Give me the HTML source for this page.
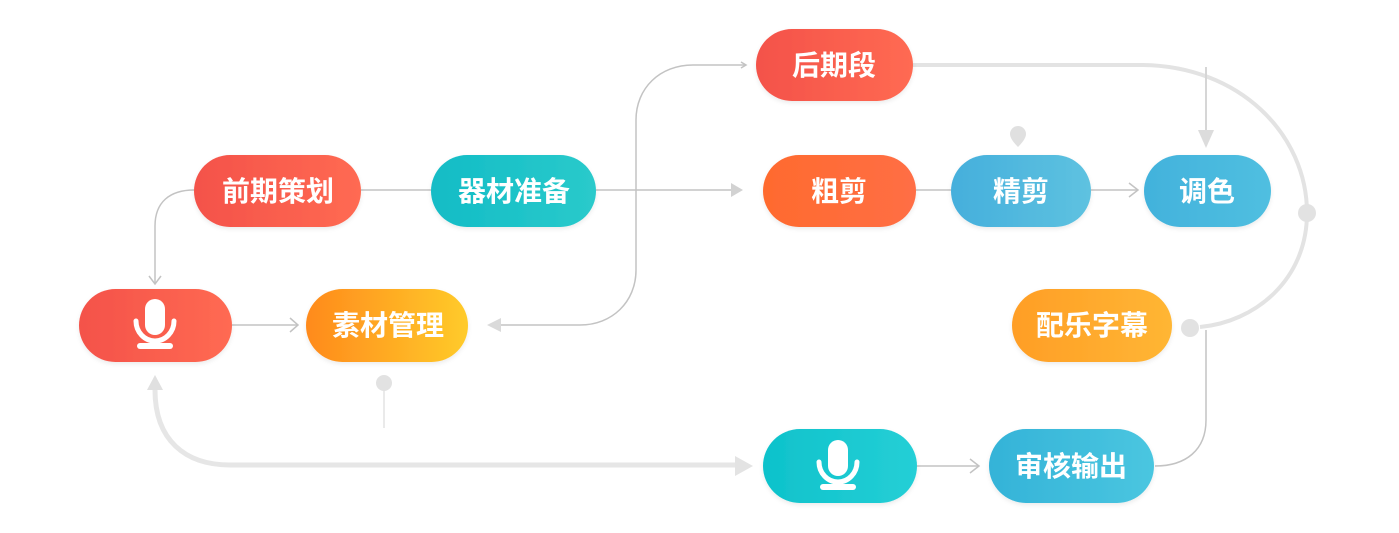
<!DOCTYPE html>
<html>
<head>
<meta charset="utf-8">
<style>
html,body{margin:0;padding:0;background:#ffffff;}
svg{display:block;}
text{font-family:"Liberation Sans","Noto Sans CJK SC",sans-serif;font-weight:bold;font-size:28px;fill:#ffffff;text-anchor:middle;}
</style>
</head>
<body>
<svg width="1399" height="533" viewBox="0 0 1399 533" xmlns="http://www.w3.org/2000/svg">
<defs>
<linearGradient id="gRed" x1="0" y1="0" x2="1" y2="0"><stop offset="0" stop-color="#F4524A"/><stop offset="1" stop-color="#FF6A52"/></linearGradient>
<linearGradient id="gTeal" x1="0" y1="0" x2="1" y2="0"><stop offset="0" stop-color="#12BCC6"/><stop offset="1" stop-color="#2ACACB"/></linearGradient>
<linearGradient id="gOrgY" x1="0" y1="0" x2="1" y2="0"><stop offset="0" stop-color="#FF8A1C"/><stop offset="1" stop-color="#FFCB2A"/></linearGradient>
<linearGradient id="gOrg" x1="0" y1="0" x2="1" y2="0"><stop offset="0" stop-color="#FF6B2E"/><stop offset="1" stop-color="#FF6E45"/></linearGradient>
<linearGradient id="gBlue" x1="0" y1="0" x2="1" y2="0"><stop offset="0" stop-color="#45AFDC"/><stop offset="1" stop-color="#5EC2E0"/></linearGradient>
<linearGradient id="gBlue2" x1="0" y1="0" x2="1" y2="0"><stop offset="0" stop-color="#42B2DC"/><stop offset="1" stop-color="#50BFE0"/></linearGradient>
<linearGradient id="gAmb" x1="0" y1="0" x2="1" y2="0"><stop offset="0" stop-color="#FF9E26"/><stop offset="1" stop-color="#FFB634"/></linearGradient>
<linearGradient id="gTeal2" x1="0" y1="0" x2="1" y2="0"><stop offset="0" stop-color="#0EC2CB"/><stop offset="1" stop-color="#25CFD6"/></linearGradient>
<linearGradient id="gBlue3" x1="0" y1="0" x2="1" y2="0"><stop offset="0" stop-color="#34B3D8"/><stop offset="1" stop-color="#4AC6E0"/></linearGradient>
<filter id="sh" x="-10%" y="-20%" width="120%" height="150%"><feDropShadow dx="0" dy="2" stdDeviation="2" flood-color="#000" flood-opacity="0.08"/></filter>
</defs>

<!-- thin connectors -->
<g fill="none" stroke="#c3c3c3" stroke-width="1.5">
  <line x1="361" y1="190" x2="431" y2="190"/>
  <line x1="596" y1="190" x2="733" y2="190"/>
  <line x1="916" y1="190" x2="951" y2="190"/>
  <line x1="1091" y1="190" x2="1137" y2="190"/>
  <path d="M194,190 C170,190 155,202 155,226 L155,283"/>
  <line x1="232" y1="325" x2="298" y2="325"/>
  <path d="M745,65 L693,65 C660,65 636,88 636,120 L636,270 C636,302 612,325 580,325 L496,325"/>
  <path d="M1206,330 L1206,420 C1206,450 1186,466 1155,466"/>
  <line x1="917" y1="466" x2="979" y2="466"/>
  <!-- chevrons -->
  <polyline points="149,276 155,284 161,276"/>
  <polyline points="290,318 298,325 290,332"/>
  <polyline points="1129,183 1138,190 1129,197"/>
  <polyline points="970,459 979,466 970,473"/>
  <polyline points="741,62 746,65 741,68"/>
</g>
<polygon points="731,183 743,190 731,197" fill="#d2d2d2"/>
<polygon points="487,325 501,318 501,332" fill="#dadada"/>

<!-- thick light connectors -->
<g fill="none" stroke="#e3e3e3" stroke-width="4">
  <path d="M913,65 L1140,65 C1240,65 1307,135 1307,213 C1307,280 1255,322 1200,327"/>
</g>
<path d="M155,390 C155,440 185,465 230,465 L738,465" fill="none" stroke="#e6e6e6" stroke-width="5"/>
<polygon points="735,456 753,466 735,476" fill="#e3e3e3"/>
<polygon points="147,390 163,390 155,375" fill="#e0e0e0"/>
<line x1="1206" y1="67" x2="1206" y2="132" stroke="#d6d6d6" stroke-width="2"/>
<polygon points="1198,130 1214,130 1206,148" fill="#dcdcdc"/>
<circle cx="1307" cy="213" r="9" fill="#e2e2e2"/>
<circle cx="1190" cy="328" r="9" fill="#e2e2e2"/>
<path d="M1010,134 A8,8 0 1 1 1026,134 Q1026,139 1018,147 Q1010,139 1010,134 Z" fill="#e0e0e0"/>
<circle cx="384" cy="383" r="8" fill="#e2e2e2"/>
<line x1="384" y1="390" x2="384" y2="428" stroke="#e2e2e2" stroke-width="1.5"/>

<!-- nodes -->
<g filter="url(#sh)">
  <rect x="194" y="155" width="167" height="72" rx="36" fill="url(#gRed)"/>
  <rect x="431" y="155" width="165" height="72" rx="36" fill="url(#gTeal)"/>
  <rect x="79" y="289" width="153" height="73" rx="36.5" fill="url(#gRed)"/>
  <rect x="306" y="289" width="162" height="73" rx="36.5" fill="url(#gOrgY)"/>
  <rect x="756" y="29" width="157" height="72" rx="36" fill="url(#gRed)"/>
  <rect x="763" y="155" width="153" height="72" rx="36" fill="url(#gOrg)"/>
  <rect x="951" y="155" width="140" height="72" rx="36" fill="url(#gBlue)"/>
  <rect x="1144" y="155" width="127" height="72" rx="36" fill="url(#gBlue2)"/>
  <rect x="1012" y="289" width="160" height="73" rx="36.5" fill="url(#gAmb)"/>
  <rect x="763" y="429" width="154" height="74" rx="37" fill="url(#gTeal2)"/>
  <rect x="989" y="429" width="165" height="74" rx="37" fill="url(#gBlue3)"/>
</g>

<!-- labels -->
<text x="278" y="201">前期策划</text>
<text x="514" y="201">器材准备</text>
<text x="388" y="335">素材管理</text>
<text x="834" y="75">后期段</text>
<text x="839" y="201">粗剪</text>
<text x="1021" y="201">精剪</text>
<text x="1207" y="201">调色</text>
<text x="1092" y="335">配乐字幕</text>
<text x="1071" y="476">审核输出</text>

<!-- mic icons -->
<g id="mic">
  <rect x="145" y="299" width="20" height="36" rx="10" fill="#ffffff"/>
  <path d="M136,321 A19,20 0 0 0 174,321" fill="none" stroke="#ffffff" stroke-width="5" stroke-linecap="round"/>
  <line x1="155" y1="340" x2="155" y2="346" stroke="#ffffff" stroke-width="5"/>
  <rect x="137" y="343" width="36" height="6" rx="3" fill="#ffffff"/>
</g>
<g transform="translate(683,141)">
  <rect x="145" y="299" width="20" height="36" rx="10" fill="#ffffff"/>
  <path d="M136,321 A19,20 0 0 0 174,321" fill="none" stroke="#ffffff" stroke-width="5" stroke-linecap="round"/>
  <line x1="155" y1="340" x2="155" y2="346" stroke="#ffffff" stroke-width="5"/>
  <rect x="137" y="343" width="36" height="6" rx="3" fill="#ffffff"/>
</g>
</svg>
</body>
</html>
